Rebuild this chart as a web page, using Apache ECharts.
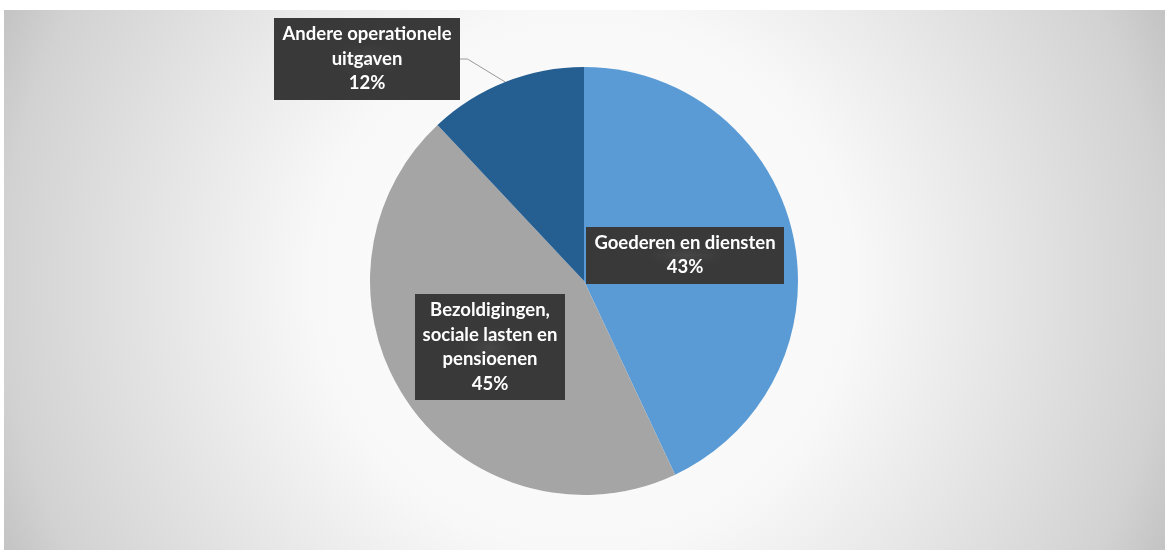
<!DOCTYPE html>
<html>
<head>
<meta charset="utf-8">
<title>Operationele uitgaven</title>
<script src="https://cdn.jsdelivr.net/npm/echarts@6/dist/echarts.min.js"></script>
<style>
  html, body { margin: 0; padding: 0; background: #ffffff; }
  #chart { width: 1167px; height: 550px; }
</style>
</head>
<body>
<div id="chart"></div>
<script>
// Spending shares by category (percent of total)
const categories = [
  'Goederen en diensten',
  'Bezoldigingen,\nsociale lasten en\npensioenen',
  'Andere operationele\nuitgaven'
];
const shares = [43, 45, 12];
const sliceColors = ['#5B9BD5', '#A5A5A5', '#255E91'];

// Where each data label box is centred
const labelCenters = [
  { x: 685, y: 255 },
  { x: 490, y: 347 },
  { x: 367, y: 59 }
];

// Dark dotted fill for the label boxes
function dottedTile() {
  const c = document.createElement('canvas');
  c.width = 5; c.height = 5;
  const g = c.getContext('2d');
  g.fillStyle = '#393939';
  g.fillRect(0, 0, 5, 5);
  g.fillStyle = '#474747';
  g.fillRect(2, 2, 1, 1);
  return c;
}
const tile = dottedTile();

const chart = echarts.init(document.getElementById('chart'), null, { renderer: 'canvas' });

const option = {
  animation: false,
  backgroundColor: 'transparent',
  graphic: [{
    type: 'rect',
    z: -10,
    silent: true,
    shape: { x: 4, y: 10, width: 1161, height: 540 },
    style: {
      fill: {
        type: 'radial', x: 584, y: 281, r: 645, global: true,
        colorStops: [
          { offset: 0, color: '#ffffff' },
          { offset: 0.42, color: '#f8f8f8' },
          { offset: 0.9, color: '#d2d2d2' },
          { offset: 1, color: '#c2c2c2' }
        ]
      }
    }
  }],
  series: [{
    type: 'pie',
    center: [584, 281],
    radius: 214,
    startAngle: 90,
    clockwise: true,
    avoidLabelOverlap: false,
    data: categories.map((name, i) => ({
      name: name,
      value: shares[i],
      itemStyle: { color: sliceColors[i] },
      labelLine: { show: i === 2 }
    })),
    itemStyle: { borderWidth: 0 },
    label: {
      show: true,
      position: 'outside',
      formatter: '{b}\n{c}%',
      color: '#ffffff',
      fontFamily: 'Lato',
      fontWeight: 'bold',
      fontSize: 18.5,
      lineHeight: 24.5,
      align: 'center',
      backgroundColor: { image: tile, repeat: 'repeat' },
      padding: [4, 8, 4, 8],
      shadowColor: 'rgba(0,0,0,0.4)',
      shadowBlur: 4,
      shadowOffsetX: 2,
      shadowOffsetY: 2
    },
    labelLine: {
      show: true,
      length: 10,
      length2: 8,
      lineStyle: { color: '#9a9a9a', width: 1 }
    },
    labelLayout: function (params) {
      const p = labelCenters[params.dataIndex];
      return { x: p.x, y: p.y, align: 'center', verticalAlign: 'middle' };
    },
    emphasis: { disabled: true }
  }]
};

chart.setOption(option);
</script>
</body>
</html>
